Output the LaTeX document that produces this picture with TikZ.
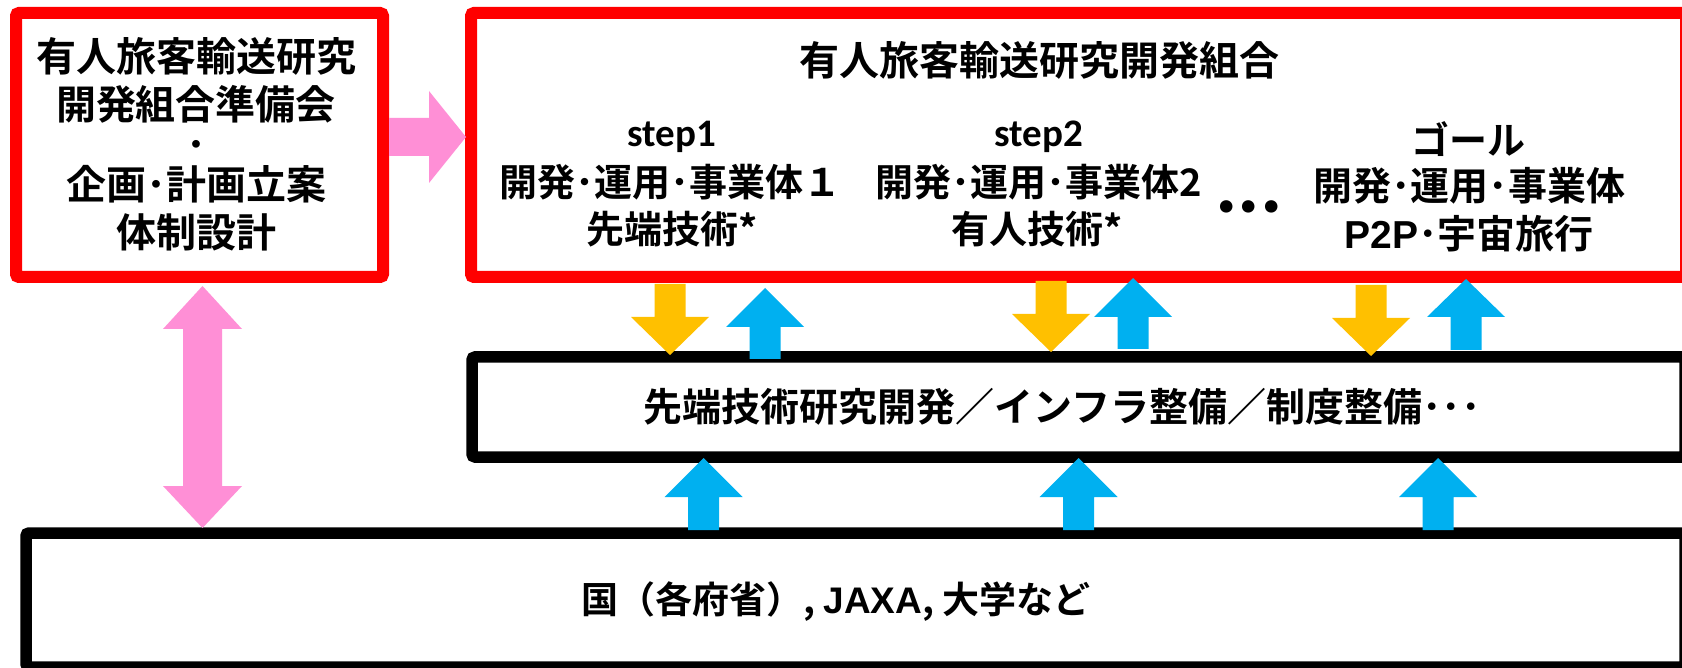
\documentclass[tikz,border=0pt]{standalone}
\usepackage{fontspec}
\newfontfamily\jp{Noto Sans CJK JP Bold}
\newfontfamily\calb{Carlito Bold}
\newfontfamily\arl{Liberation Sans Bold}
\definecolor{pk}{HTML}{FF8FD6}
\definecolor{yl}{HTML}{FFC000}
\definecolor{bl}{HTML}{00B0F0}
\newcommand{\uparr}[5]{%
  \fill[#1] ({#2-15.5},{#5}) -- ({#2-15.5},{#4}) -- ({#2-39},{#4}) -- ({#2},{#3})
    -- ({#2+39},{#4}) -- ({#2+15.5},{#4}) -- ({#2+15.5},{#5}) -- cycle;}
\newcommand{\downarr}[5]{%
  \fill[#1] ({#2-15.5},{#3}) -- ({#2+15.5},{#3}) -- ({#2+15.5},{#4}) -- ({#2+39},{#4})
    -- ({#2},{#5}) -- ({#2-39},{#4}) -- ({#2-15.5},{#4}) -- cycle;}
\tikzset{
  redbox/.style={draw=red, line width=12pt, fill=white, rounded corners=3pt, inner sep=0pt},
  blackbox/.style={draw=black, line width=11.5pt, fill=white, rounded corners=3pt, inner sep=0pt},
  tA/.style={font=\jp\fontsize{40}{48}\selectfont, inner sep=0pt, anchor=base},
  tB/.style={font=\jp\fontsize{38}{46}\selectfont, inner sep=0pt, anchor=base},
  tC/.style={font=\jp\fontsize{39}{46}\selectfont, inner sep=0pt, anchor=base},
  tD/.style={font=\jp\fontsize{37}{44}\selectfont, inner sep=0pt, anchor=base},
  tS/.style={font=\calb\fontsize{39}{46}\selectfont, inner sep=0pt, anchor=base},
}
\begin{document}
\begin{tikzpicture}[x=1pt,y=-1pt]
\useasboundingbox (0,0) rectangle (1682,668);
\fill[white] (0,0) rectangle (1682,668);
% boxes
\node[redbox, minimum width=367pt, minimum height=264pt] (prep) at (199.5,145) {};
\node[redbox, minimum width=1215pt, minimum height=264pt] (union) at (1078.5,145) {};
\node[blackbox, minimum width=1213pt, minimum height=100pt] (tech) at (1078.5,407) {};
\node[blackbox, minimum width=1659pt, minimum height=134pt] (gov) at (855.5,600) {};
% left box text
\node[tA] (p1) at (196,72) {有人旅客輸送研究};
\node[tA] (p2) at (196,120) {開発組合準備会};
\node[tA] (p3) at (196,160) {･};
\node[tA] (p4) at (196,200) {企画･計画立案};
\node[tA] (p5) at (196,248) {体制設計};
% main box text
\node[tA] (title) at (1039,76) {有人旅客輸送研究開発組合};
\node[tS] (s1a) at (672,147) {step1};
\node[tB] (s1b) at (670,197) {開発･運用･事業体１};
\node[tB] (s1c) at (672,244) {先端技術*};
\node[tS] (s2a) at (1039,147) {step2};
\node[tB] (s2b) at (1039,197) {開発･運用･事業体2};
\node[tB] (s2c) at (1037,244) {有人技術*};
\node[font=\calb\fontsize{84}{90}\selectfont, inner sep=0pt, anchor=base] (dots) at (1249,213) {...};
\node[tB] (g1) at (1468,155) {ゴール};
\node[tC] (g2) at (1469,201) {開発･運用･事業体};
\node[tC] (g3) at (1469,249) {{\arl P2P}･宇宙旅行};
% middle and bottom text
\node[tC] (techtext) at (1062,421) {先端技術研究開発／インフラ整備／制度整備･･･};
\node[tD] (govtext) at (836,613) {国（各府省）,\ {\arl JAXA},\ 大学など};
% pink arrows
\fill[pk] (389,118) -- (429,118) -- (429,91) -- (466,137) -- (429,183) -- (429,156) -- (389,156) -- cycle;
\fill[pk] (202.5,286) -- (242,329) -- (222,329) -- (222,486) -- (242,486) -- (202.5,528)
  -- (163,486) -- (183,486) -- (183,329) -- (163,329) -- cycle;
% yellow / blue arrows between union and tech
\downarr{yl}{670}{284}{317}{355}
\uparr{bl}{765}{288}{327}{359}
\downarr{yl}{1051}{281}{314}{352}
\uparr{bl}{1133}{278}{317}{349}
\downarr{yl}{1371}{285}{318}{356}
\uparr{bl}{1466}{279}{317}{350}
% blue arrows from gov to tech
\uparr{bl}{703.5}{458}{497}{530}
\uparr{bl}{1078.5}{458}{497}{530}
\uparr{bl}{1438}{458}{497}{530}
\end{tikzpicture}
\end{document}
